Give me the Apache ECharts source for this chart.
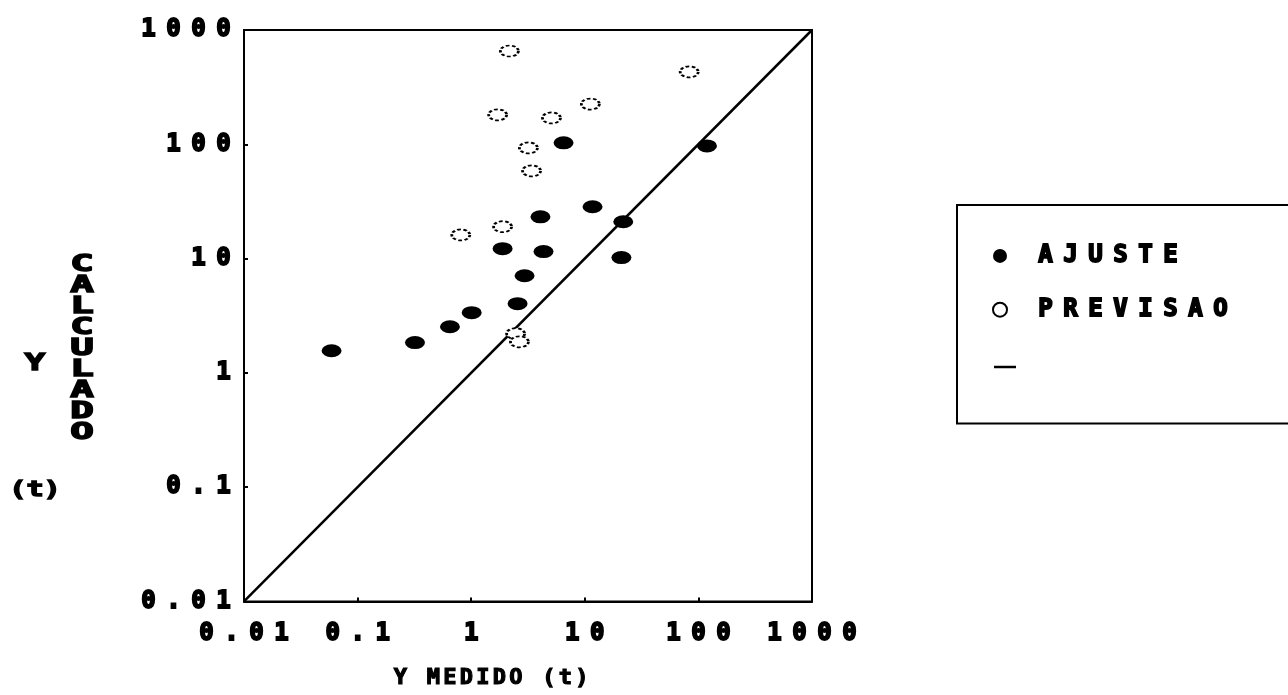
<!DOCTYPE html>
<html>
<head>
<meta charset="utf-8">
<script src="https://cdn.jsdelivr.net/npm/echarts@6/dist/echarts.min.js"></script>
<style>
  html, body { margin: 0; padding: 0; background: #fff; }
  #chart { width: 1288px; height: 695px; }
</style>
</head>
<body>
<div id="chart"></div>
<script>
// Axis tick labels (log scale, one per decade)
const tickLabels = ['0.01', '0.1', '1', '10', '100', '1000'];

// Fitted points: measured vs calculated (t)
const ajusteMedido    = [0.059, 0.32, 0.65, 1.01, 2.56, 2.95, 1.89, 4.33, 4.07, 11.7, 21.8, 21.0, 6.5, 119];
const ajusteCalculado = [1.56, 1.84, 2.53, 3.36, 4.03, 7.07, 12.2, 11.5, 23.2, 28.4, 21.0, 10.2, 103, 96.8];

// Forecast points: measured vs calculated (t)
const previsaoMedido    = [2.17, 83, 1.71, 5.09, 11.2, 3.19, 3.40, 0.81, 1.89, 2.46, 2.66];
const previsaoCalculado = [655, 430, 181, 170, 225, 93, 58.5, 16.1, 19.0, 2.2, 1.87];

// Identity line y = x across the whole axis range
const identityLine = [0.01, 1000];

const seriesNames = ['AJUSTE', 'PREVISAO', 'y = x'];
const xName = 'Y MEDIDO (t)';
const yName = ['Y', 'CALCULADO', '(t)'];

const FONT = 'DejaVu Sans Mono';

// Split a string into fixed-width rich-text cells (wide monospace look)
function cells(text, key) {
  return text.split('').map(ch => '{' + key + '|' + ch + '}').join('');
}
function cellStyle(width, size, border) {
  return {
    width: width, align: 'center', fontFamily: FONT, fontWeight: 'bold',
    fontSize: size, lineHeight: size, color: '#000',
    textBorderColor: '#000', textBorderWidth: border
  };
}
const labelOf = v => tickLabels[Math.round(Math.log10(v)) + 2];

const zip = (a, b) => a.map((v, i) => [v, b[i]]);

const chart = echarts.init(document.getElementById('chart'), null, { renderer: 'canvas' });

const axisCommon = {
  type: 'log', logBase: 10, min: 0.01, max: 1000, splitNumber: 5,
  axisLine: { show: true, lineStyle: { color: '#000', width: 2 } },
  axisTick: { show: true, inside: true, length: 4, lineStyle: { color: '#000', width: 2 } },
  splitLine: { show: false },
  minorTick: { show: false }
};

const gText = (extra) => Object.assign({
  font: 'bold 23px "DejaVu Sans Mono"', fill: '#000', stroke: '#000', lineWidth: 1.4,
  align: 'center', verticalAlign: 'middle'
}, extra);

chart.setOption({
  backgroundColor: '#fff',
  animation: false,
  grid: {
    left: 244, top: 30, right: 476, bottom: 93,
    show: true, borderColor: '#000', borderWidth: 2, backgroundColor: 'transparent'
  },
  xAxis: Object.assign({}, axisCommon, {
    axisLabel: { margin: 20, formatter: v => cells(labelOf(v), 'c'), rich: { c: cellStyle(25, 24, 1.8) } },
    name: cells(xName, 'n'),
    nameLocation: 'middle',
    nameGap: 66,
    nameTextStyle: { padding: [0, 74, 0, 0], rich: { n: cellStyle(16.5, 22, 1.2) } }
  }),
  yAxis: Object.assign({}, axisCommon, {
    axisLabel: { margin: 8, formatter: v => cells(labelOf(v), 'c'), rich: { c: cellStyle(25, 24, 1.8) } }
  }),
  legend: {
    orient: 'vertical',
    left: 957, top: 205,
    padding: [38, 120, 51, 34],
    itemWidth: 18, itemHeight: 14, itemGap: 28,
    borderColor: '#000', borderWidth: 2, borderRadius: 0,
    selectedMode: false,
    data: [
      { name: seriesNames[0] },
      { name: seriesNames[1] },
      { name: seriesNames[2], icon: 'none' }
    ],
    formatter: name => name === seriesNames[2] ? '{e| }' : cells(name, 'c'),
    textStyle: { padding: [0, 0, 0, 19], rich: { c: cellStyle(25, 24, 1.8), e: { lineHeight: 44, fontSize: 22 } } }
  },
  graphic: [
    { type: 'text', x: 35, y: 364, scaleX: 1.5, style: gText({ text: yName[0] }) },
    { type: 'text', x: 82, y: 349, scaleX: 1.7, style: gText({ text: yName[1].split('').join('\n'), lineHeight: 21 }) },
    { type: 'text', x: 35, y: 490, scaleX: 1.3, style: gText({ text: yName[2], font: 'bold 22px "DejaVu Sans Mono"' }) },
    // short line sample for the y = x legend entry
    { type: 'line', shape: { x1: 994, y1: 367, x2: 1016, y2: 367 }, style: { stroke: '#000', lineWidth: 2.5 } }
  ],
  series: [
    {
      name: seriesNames[2],
      type: 'line',
      data: [[identityLine[0], identityLine[0]], [identityLine[1], identityLine[1]]],
      symbol: 'none',
      showSymbol: false,
      lineStyle: { color: '#000', width: 2.5 },
      itemStyle: { color: '#000' },
      z: 1
    },
    {
      name: seriesNames[0],
      type: 'scatter',
      data: zip(ajusteMedido, ajusteCalculado),
      symbol: 'circle',
      symbolSize: [20, 13],
      itemStyle: { color: '#000', opacity: 1 },
      z: 3
    },
    {
      name: seriesNames[1],
      type: 'scatter',
      data: zip(previsaoMedido, previsaoCalculado),
      symbol: 'circle',
      symbolSize: [18, 11],
      itemStyle: { color: '#fff', opacity: 1, borderColor: '#000', borderWidth: 2.2, borderType: [3, 2] },
      z: 3
    }
  ]
});
</script>
</body>
</html>
